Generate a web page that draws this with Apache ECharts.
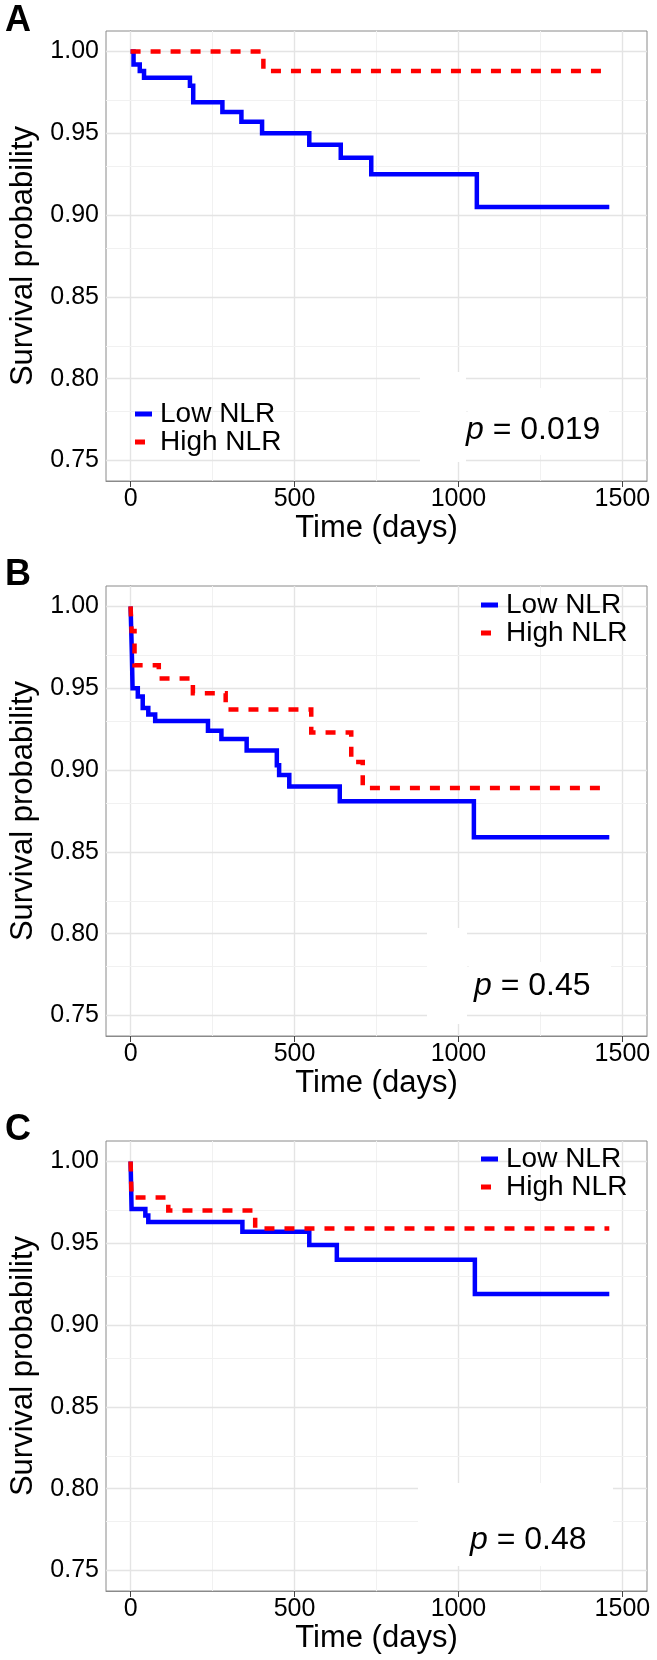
<!DOCTYPE html>
<html><head><meta charset="utf-8">
<script src="https://cdn.jsdelivr.net/npm/echarts@6/dist/echarts.min.js"></script>
<style>html,body{margin:0;padding:0;background:#fff}#c{width:657px;height:1660px}</style>
</head><body><div id="c"></div>
<script>
// ---- tick labels ----
const xTicks = [0, 500, 1000, 1500];
const xMinor = [250, 750, 1250];
const yTicks = [0.75, 0.80, 0.85, 0.90, 0.95, 1.00];
const yMinor = [0.775, 0.825, 0.875, 0.925, 0.975];
const groups = ['Low NLR', 'High NLR'];
const panelLabels = ['A', 'B', 'C'];
const pValues = ['0.019', '0.45', '0.48'];

// ---- Panel A ----
const lowA_t  = [0, 9, 28, 41, 181, 191, 280, 338, 401, 545, 641, 734, 1056, 1460];
const lowA_s  = [1, 0.992, 0.988, 0.984, 0.979, 0.969, 0.963, 0.957, 0.950, 0.943, 0.935, 0.925, 0.905, 0.905];
const highA_t = [0, 405, 1460];
const highA_s = [1, 0.988, 0.988];
// ---- Panel B ----
const lowB_t  = [0, 2, 4, 6, 22, 37, 54, 75, 236, 277, 354, 446, 453, 484, 638, 1047, 1460];
const lowB_s  = [1, 0.985, 0.970, 0.950, 0.945, 0.938, 0.934, 0.930, 0.924, 0.919, 0.912, 0.903, 0.897, 0.890, 0.881, 0.859, 0.859];
const highB_t = [0, 3, 12, 86, 190, 290, 551, 673, 708, 1460];
const highB_s = [1, 0.985, 0.964, 0.956, 0.947, 0.937, 0.923, 0.905, 0.889, 0.889];
// ---- Panel C ----
const lowC_t  = [0, 3, 45, 54, 341, 545, 629, 1050, 1460];
const lowC_s  = [1, 0.971, 0.967, 0.963, 0.957, 0.949, 0.940, 0.919, 0.919];
const highC_t = [0, 3, 115, 380, 1460];
const highC_s = [1, 0.978, 0.970, 0.959, 0.959];

const zip = (t, s) => t.map((v, i) => [v, s[i]]);
const panelsData = [
  [zip(lowA_t, lowA_s), zip(highA_t, highA_s)],
  [zip(lowB_t, lowB_s), zip(highB_t, highB_s)],
  [zip(lowC_t, lowC_s), zip(highC_t, highC_s)]
];

const FONT = 'Liberation Sans, Arial, Helvetica, sans-serif';
const gridTops = [31, 586, 1141];
const plotH = 450, plotL = 106, plotW = 541;
const legendPos = [{left: 135, top: 400}, {left: 481, top: 591}, {left: 481, top: 1145}];
const pPos = [{x: 466, y: 430}, {x: 474, y: 986}, {x: 470, y: 1540}];
const labelY = [21, 575, 1130];
const whiteRects = [
  [[420, 372, 46, 90], [468, 388, 141, 67]],
  [[427, 928, 40, 96], [469, 962, 142, 50]],
  [[418, 1483, 195, 83]]
];
const iconLow = 'path://M0,0H17V5H0Z';
const iconHigh = 'path://M0,0H10V5H0Z M17,0L17,5';

const grids = [], xAxes = [], yAxes = [], series = [], legends = [], graphics = [];

const gridLines = () => {
  const maj = {color: '#e4e4e4', width: 1.4, type: 'solid'};
  const min = {color: '#f1f1f1', width: 1, type: 'solid'};
  return [
    ...xTicks.map(v => ({xAxis: v, lineStyle: maj})),
    ...xMinor.map(v => ({xAxis: v, lineStyle: min})),
    ...yTicks.map(v => ({yAxis: v, lineStyle: maj})),
    ...yMinor.map(v => ({yAxis: v, lineStyle: min}))
  ];
};

for (let i = 0; i < 3; i++) {
  grids.push({left: plotL, top: gridTops[i], width: plotW, height: plotH,
    show: true, borderColor: '#8a8a8a', borderWidth: 1, backgroundColor: 'transparent'});
  xAxes.push({
    gridIndex: i, type: 'value', min: -75, max: 1575,
    axisLine: {show: true, onZero: false, lineStyle: {color: '#8a8a8a', width: 1}},
    axisTick: {show: true, customValues: xTicks, length: 6, lineStyle: {color: '#444', width: 1}},
    axisLabel: {customValues: xTicks, fontSize: 25, color: '#000', fontFamily: FONT, margin: 6,
      formatter: v => String(v)},
    splitLine: {show: false},
    name: 'Time (days)', nameLocation: 'middle', nameGap: 31,
    nameTextStyle: {fontSize: 31, color: '#000', fontFamily: FONT}
  });
  yAxes.push({
    gridIndex: i, type: 'value', min: 0.7375, max: 1.0125,
    axisLine: {show: true, lineStyle: {color: '#8a8a8a', width: 1}},
    axisTick: {show: true, customValues: yTicks, length: 6, lineStyle: {color: '#444', width: 1}},
    axisLabel: {customValues: yTicks, fontSize: 25, color: '#000', fontFamily: FONT, margin: 7,
      formatter: v => v.toFixed(2)},
    splitLine: {show: false},
    name: 'Survival probability', nameLocation: 'middle', nameGap: 63,
    nameTextStyle: {fontSize: 31, color: '#000', fontFamily: FONT}
  });
  const [low, high] = panelsData[i];
  series.push({
    name: groups[0], type: 'line', xAxisIndex: i, yAxisIndex: i, step: 'end',
    data: low, symbol: 'none', z: 3, silent: true, animation: false,
    lineStyle: {color: '#0000ff', width: 4.5, cap: 'butt', join: 'miter'},
    itemStyle: {color: '#0000ff'},
    markLine: {silent: true, z: 1, symbol: ['none', 'none'], label: {show: false},
      animation: false, data: gridLines()}
  });
  series.push({
    name: groups[1], type: 'line', xAxisIndex: i, yAxisIndex: i, step: 'end',
    data: high, symbol: 'none', z: 4, silent: true, animation: false,
    lineStyle: {color: '#ff0000', width: 4.5, type: [10, 10], cap: 'butt', join: 'miter'},
    itemStyle: {color: '#ff0000'}
  });
  legends.push({
    left: legendPos[i].left, top: legendPos[i].top, orient: 'vertical', padding: 0,
    itemWidth: 17, itemHeight: 5, itemGap: 0, selectedMode: false,
    data: [{name: groups[0], icon: iconLow}, {name: groups[1], icon: iconHigh}],
    itemStyle: {borderWidth: 0},
    textStyle: {fontSize: 28, lineHeight: 27, color: '#000', fontFamily: FONT, padding: [0, 0, 0, 3]}
  });
  whiteRects[i].forEach(r => graphics.push({
    type: 'rect', z: 2, silent: true,
    shape: {x: r[0], y: r[1], width: r[2], height: r[3]},
    style: {fill: '#ffffff'}
  }));
  graphics.push({
    type: 'text', z: 6, silent: true, x: pPos[i].x, y: pPos[i].y,
    style: {
      text: '{p|p} = ' + pValues[i],
      fontSize: 32, fontFamily: FONT, fill: '#000', verticalAlign: 'middle', align: 'left',
      rich: {p: {fontStyle: 'italic', fontSize: 32, fontFamily: FONT, fill: '#000'}}
    }
  });
  graphics.push({
    type: 'text', z: 6, silent: true, x: 5, y: labelY[i],
    style: {text: panelLabels[i], fontSize: 36, fontWeight: 'bold', fontFamily: FONT,
      fill: '#000', verticalAlign: 'middle', align: 'left'}
  });
}

const chart = echarts.init(document.getElementById('c'), null, {renderer: 'canvas'});
chart.setOption({
  animation: false,
  backgroundColor: '#ffffff',
  grid: grids, xAxis: xAxes, yAxis: yAxes, series: series, legend: legends,
  graphic: {elements: graphics}
});
</script>
</body></html>
